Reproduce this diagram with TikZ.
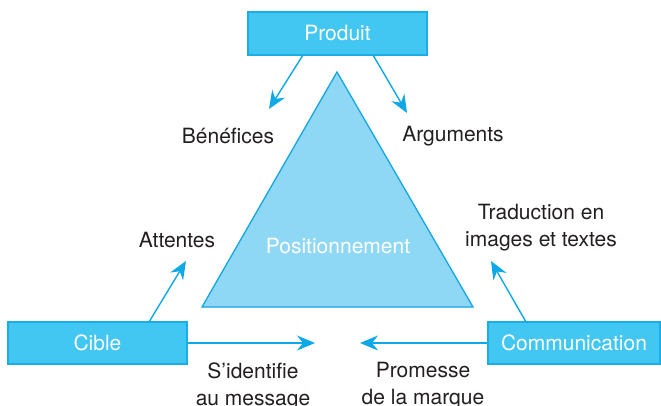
\documentclass[tikz,border=0pt]{standalone}
\usepackage{fontspec}
\setmainfont{TeX Gyre Heros}
\usetikzlibrary{arrows.meta}
\definecolor{boxfill}{HTML}{42C7F3}
\definecolor{boxline}{HTML}{1AAEE6}
\definecolor{trifill}{HTML}{8ED8F6}
\definecolor{triline}{HTML}{14A6E2}
\definecolor{arr}{HTML}{0CA8E8}
\definecolor{txt}{HTML}{231F20}
\begin{document}
\begin{tikzpicture}[x=1pt,y=-1pt,
  font=\fontsize{21}{27}\selectfont,
  boxnode/.style={draw=boxline,line width=1.2pt,fill=boxfill,text=white,inner sep=0pt},
  lbl/.style={text=txt,align=center,inner sep=0pt},
  conn/.style={draw=arr,line width=1.4pt,-{Stealth[length=18pt,width=15pt,inset=6pt]}}]
\useasboundingbox (0,0) rectangle (661,406);
% triangle
\coordinate (apex) at (337,72);
\coordinate (bl) at (202,307);
\coordinate (br) at (473,307);
\draw[fill=trifill,draw=triline,line width=1.3pt] (apex) -- (br) -- (bl) -- cycle;
\node[text=white,inner sep=0pt] (pos) at (338,246) {Positionnement};
% boxes
\node[boxnode,minimum width=179pt,minimum height=43pt] (prod) at (337.5,33.5) {Produit};
\node[boxnode,minimum width=179pt,minimum height=42pt] (cible) at (97.5,343) {Cible};
\node[boxnode,minimum width=172pt,minimum height=42pt] (comm) at (574,343) {Communication};
% labels
\node[lbl] (benef) at (228,136) {Bénéfices};
\node[lbl] (argu) at (453,136) {Arguments};
\node[lbl] (att) at (177,240) {Attentes};
\node[lbl] (trad) at (541,228) {Traduction en\\images et textes};
\node[lbl] (sid) at (253,386) {S’identifie\\au message};
\node[lbl] (prom) at (423,386) {Promesse\\de la marque};
% arrow end coordinates
\coordinate (pa1) at (303,55);
\coordinate (ta1) at (269,109);
\coordinate (pa2) at (373,55);
\coordinate (ta2) at (407,113);
\coordinate (ca) at (149,322);
\coordinate (tc) at (186,261);
\coordinate (ma) at (526,322);
\coordinate (tm) at (491,261);
\coordinate (th) at (315,343);
\coordinate (tp) at (360,343);
\draw[conn] (pa1) -- (ta1);
\draw[conn] (pa2) -- (ta2);
\draw[conn] (ca) -- (tc);
\draw[conn] (ma) -- (tm);
\draw[conn] (cible.east) -- (th);
\draw[conn] (comm.west) -- (tp);
\end{tikzpicture}
\end{document}
